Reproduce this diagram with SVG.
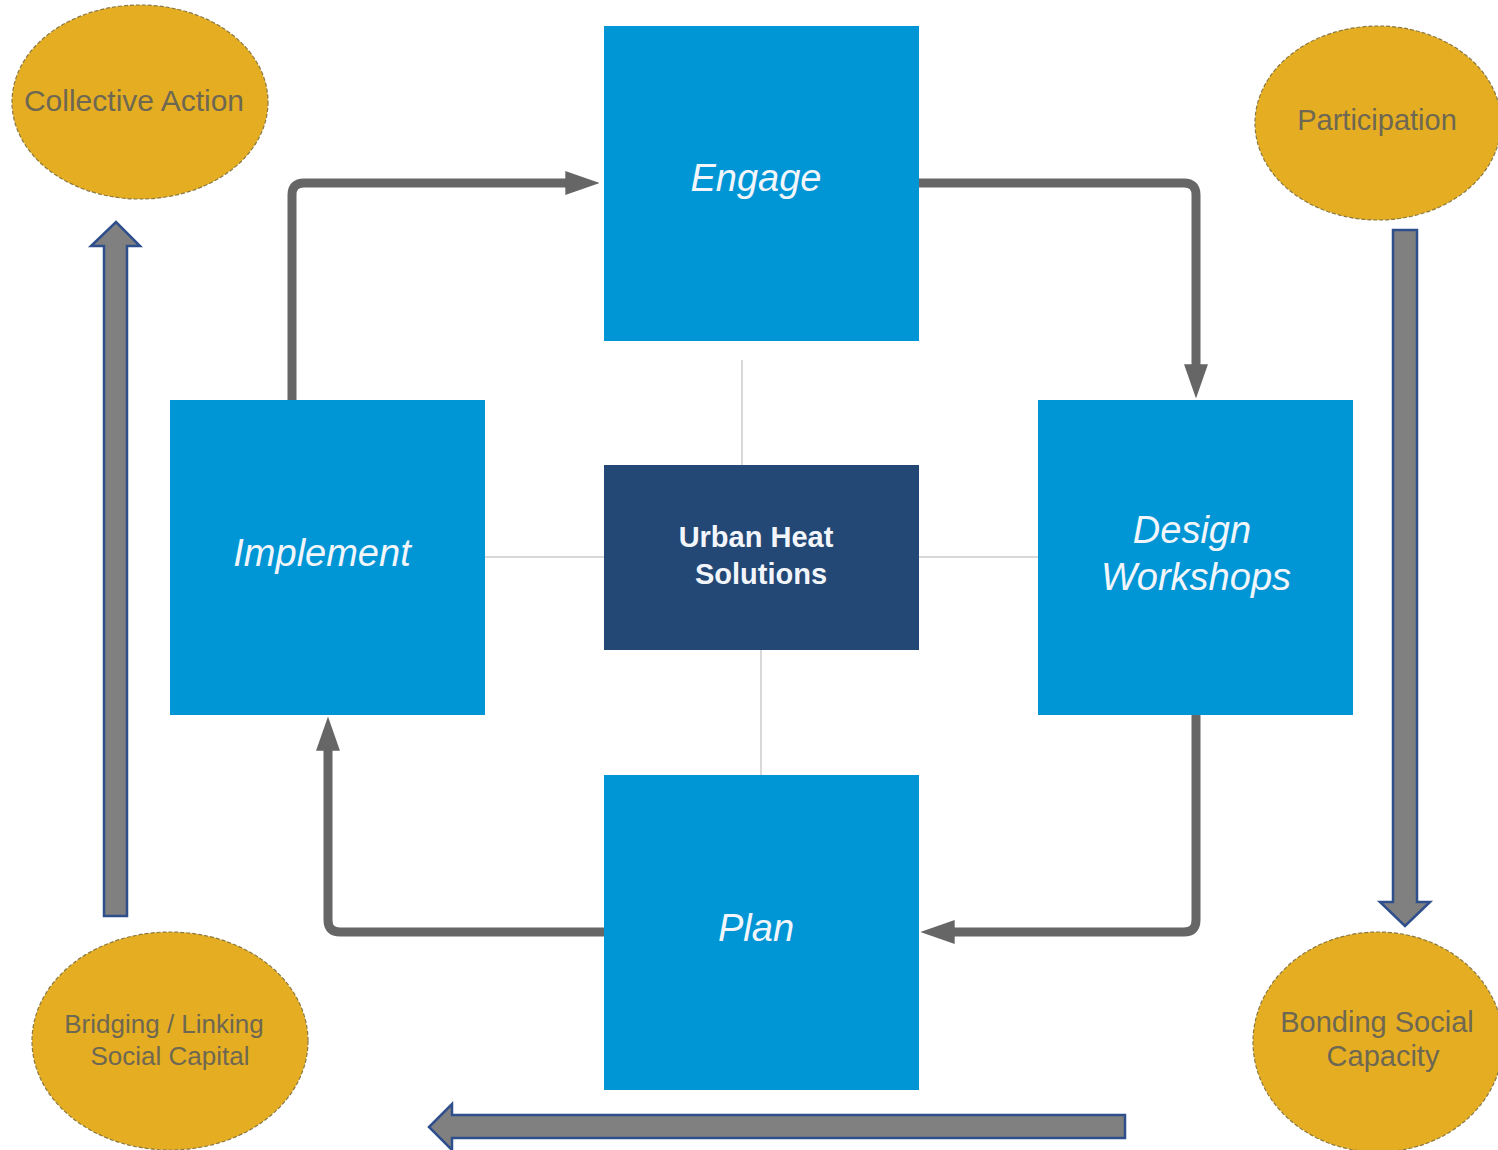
<svg xmlns="http://www.w3.org/2000/svg" width="1498" height="1150" viewBox="0 0 1498 1150">
<defs>
<style>
.box{fill:#0096D6;}
.core{fill:#234876;}
.btxt{font-family:"Liberation Sans",Arial,sans-serif;font-style:italic;font-size:38px;fill:#F2F6FB;text-anchor:middle;}
.ctxt{font-family:"Liberation Sans",Arial,sans-serif;font-weight:bold;font-size:29px;fill:#F2F6FB;text-anchor:middle;}
.ell{fill:#E5AE22;stroke:#8A7840;stroke-width:1.2;stroke-dasharray:4 2;}
.etxt{font-family:"Liberation Sans",Arial,sans-serif;fill:#6E6752;text-anchor:middle;}
.flow{fill:none;stroke:#666666;stroke-width:9;stroke-linejoin:round;}
.thin{fill:none;stroke:#D9D9D9;stroke-width:2;}
.block{fill:#808080;stroke:#2E4F8C;stroke-width:2.5;}
</style>
<marker id="ah" viewBox="0 0 10 7" refX="0.5" refY="3.5" markerWidth="3.8" markerHeight="2.66" markerUnits="strokeWidth" orient="auto">
<path d="M0,0 L10,3.5 L0,7 z" fill="#666666"/>
</marker>
</defs>
<rect width="1498" height="1150" fill="#FFFFFF"/>

<g id="connectors">
<line class="thin" x1="742" y1="360" x2="742" y2="465"/>
<line class="thin" x1="761" y1="650" x2="761" y2="775"/>
<line class="thin" x1="485" y1="557" x2="604" y2="557"/>
<line class="thin" x1="919" y1="557" x2="1038" y2="557"/>
<path class="flow" d="M292,400 V195 Q292,183 304,183 H567" marker-end="url(#ah)"/>
<path class="flow" d="M919,183 H1184 Q1196,183 1196,195 V366" marker-end="url(#ah)"/>
<path class="flow" d="M1196,715 V920 Q1196,932 1184,932 H953" marker-end="url(#ah)"/>
<path class="flow" d="M604,932 H340 Q328,932 328,920 V749" marker-end="url(#ah)"/>
<path class="block" d="M104,916 V246 H91 L116,222 L140,246 H127 V916 Z"/>
<path class="block" d="M1393,230 V902 H1380 L1405,926 L1430,902 H1417 V230 Z"/>
<path class="block" d="M1125,1115 H452 V1104 L429,1127 L452,1150 V1138 H1125 Z"/>
</g>

<g id="engage">
<rect class="box" x="604" y="26" width="315" height="315"/>
<text class="btxt" x="756" y="191">Engage</text>
</g>
<g id="design-workshops">
<rect class="box" x="1038" y="400" width="315" height="315"/>
<text class="btxt" x="1192" y="543">Design</text>
<text class="btxt" x="1196" y="590">Workshops</text>
</g>
<g id="plan">
<rect class="box" x="604" y="775" width="315" height="315"/>
<text class="btxt" x="756" y="941">Plan</text>
</g>
<g id="implement">
<rect class="box" x="170" y="400" width="315" height="315"/>
<text class="btxt" x="322" y="566">Implement</text>
</g>
<g id="urban-heat-solutions">
<rect class="core" x="604" y="465" width="315" height="185"/>
<text class="ctxt" x="756" y="547">Urban Heat</text>
<text class="ctxt" x="761" y="584">Solutions</text>
</g>

<g id="collective-action">
<ellipse class="ell" cx="140" cy="102" rx="128" ry="97"/>
<text class="etxt" x="134" y="111" font-size="30">Collective Action</text>
</g>
<g id="participation">
<ellipse class="ell" cx="1378" cy="123" rx="123" ry="97"/>
<text class="etxt" x="1377" y="130" font-size="29">Participation</text>
</g>
<g id="bridging-linking">
<ellipse class="ell" cx="170" cy="1041" rx="138" ry="109"/>
<text class="etxt" x="164" y="1033" font-size="26">Bridging / Linking</text>
<text class="etxt" x="170" y="1065" font-size="26">Social Capital</text>
</g>
<g id="bonding-social">
<ellipse class="ell" cx="1378" cy="1042" rx="125" ry="110"/>
<text class="etxt" x="1377" y="1032" font-size="29">Bonding Social</text>
<text class="etxt" x="1383" y="1066" font-size="29">Capacity</text>
</g>
</svg>
